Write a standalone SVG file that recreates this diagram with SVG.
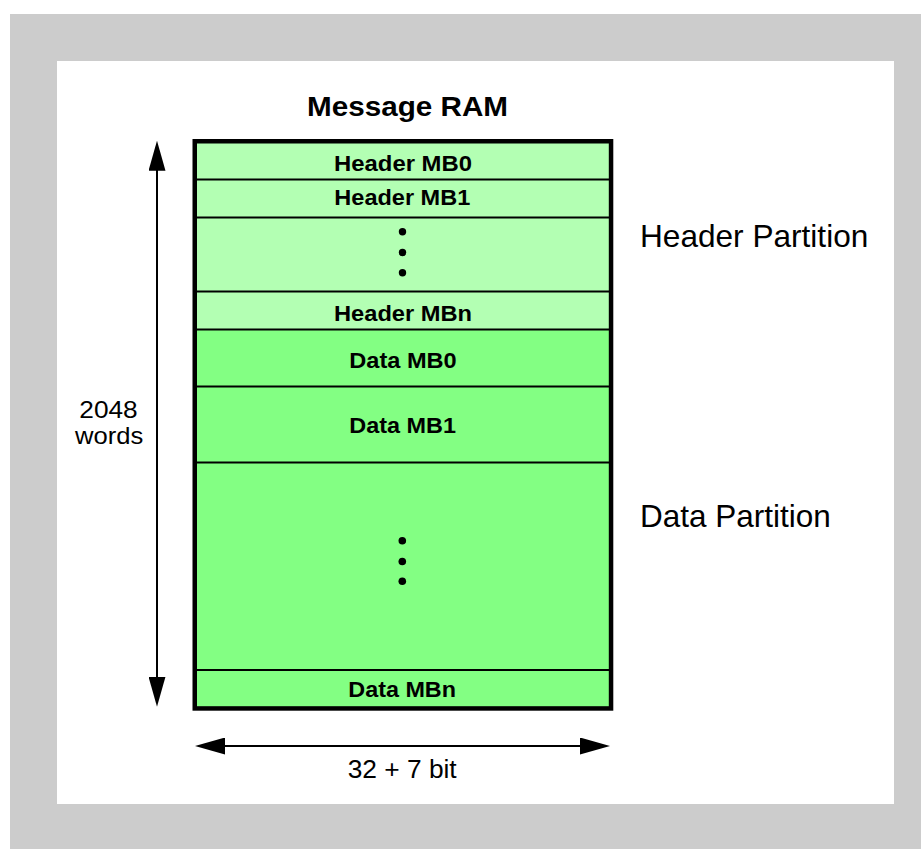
<svg xmlns="http://www.w3.org/2000/svg" width="921" height="849" viewBox="0 0 921 849">
  <defs>
    <marker id="ah" markerUnits="userSpaceOnUse" markerWidth="30" markerHeight="17" viewBox="0 0 30 17" refX="5" refY="8.5" orient="auto-start-reverse">
      <path d="M0,0 L30,8.5 L0,17 z" fill="#000"/>
    </marker>
  </defs>
  <style>
    .b { font-family: "Liberation Sans", Arial, sans-serif; font-weight: bold; fill: #000; }
    .r { font-family: "Liberation Sans", Arial, sans-serif; font-weight: normal; fill: #000; }
    .row { font-size: 22px; }
    .hdr { fill: #b3ffb3; }
    .dat { fill: #83ff83; }
    .div { stroke: #000; stroke-width: 2; }
    .conn { stroke: #000; stroke-width: 2; fill: none; }
  </style>
  <rect x="0" y="0" width="921" height="849" fill="#ffffff"/>
  <rect x="10" y="14" width="911" height="835" fill="#cccccc"/>
  <rect x="57" y="61" width="837" height="743" fill="#ffffff"/>

  <text class="b" x="307" y="116" font-size="28" textLength="201" lengthAdjust="spacingAndGlyphs">Message RAM</text>

  <g id="header-mb0">
    <rect class="hdr" x="195" y="141" width="416" height="38.5"/>
    <text class="b row" x="334" y="171" textLength="138" lengthAdjust="spacingAndGlyphs">Header MB0</text>
  </g>
  <g id="header-mb1">
    <rect class="hdr" x="195" y="179.5" width="416" height="38"/>
    <line class="div" x1="195" y1="179.5" x2="611" y2="179.5"/>
    <text class="b row" x="334.3" y="205.3" textLength="136" lengthAdjust="spacingAndGlyphs">Header MB1</text>
  </g>
  <g id="header-dots">
    <rect class="hdr" x="195" y="217.5" width="416" height="74"/>
    <line class="div" x1="195" y1="217.5" x2="611" y2="217.5"/>
    <circle cx="402.5" cy="231.8" r="3.7"/>
    <circle cx="402.5" cy="252.5" r="3.7"/>
    <circle cx="402.5" cy="272.8" r="3.7"/>
  </g>
  <g id="header-mbn">
    <rect class="hdr" x="195" y="291.5" width="416" height="38"/>
    <line class="div" x1="195" y1="291.5" x2="611" y2="291.5"/>
    <text class="b row" x="334" y="321" textLength="138" lengthAdjust="spacingAndGlyphs">Header MBn</text>
  </g>
  <g id="data-mb0">
    <rect class="dat" x="195" y="329.5" width="416" height="57"/>
    <line class="div" x1="195" y1="329.5" x2="611" y2="329.5"/>
    <text class="b row" x="349.3" y="367.7" textLength="107.4" lengthAdjust="spacingAndGlyphs">Data MB0</text>
  </g>
  <g id="data-mb1">
    <rect class="dat" x="195" y="386.5" width="416" height="76"/>
    <line class="div" x1="195" y1="386.6" x2="611" y2="386.6"/>
    <text class="b row" x="349.3" y="433.3" textLength="106.7" lengthAdjust="spacingAndGlyphs">Data MB1</text>
  </g>
  <g id="data-dots">
    <rect class="dat" x="195" y="462.4" width="416" height="207.6"/>
    <line class="div" x1="195" y1="462.4" x2="611" y2="462.4"/>
    <circle cx="402.3" cy="540.7" r="3.8"/>
    <circle cx="402.3" cy="561.5" r="3.8"/>
    <circle cx="402.3" cy="581.3" r="3.8"/>
  </g>
  <g id="data-mbn">
    <rect class="dat" x="195" y="670" width="416" height="38"/>
    <line class="div" x1="195" y1="670" x2="611" y2="670"/>
    <text class="b row" x="348.3" y="697" textLength="107.7" lengthAdjust="spacingAndGlyphs">Data MBn</text>
  </g>
  <g id="message-ram-frame">
    <rect x="194.75" y="141.25" width="416.3" height="567.2" fill="none" stroke="#000" stroke-width="4.5"/>
  </g>

  <g id="header-partition-label">
    <text class="r" x="640" y="247.3" font-size="30.5" textLength="228.3" lengthAdjust="spacingAndGlyphs">Header Partition</text>
  </g>
  <g id="data-partition-label">
    <text class="r" x="640" y="526.7" font-size="30.5" textLength="190.7" lengthAdjust="spacingAndGlyphs">Data Partition</text>
  </g>
  <g id="size-label">
    <text class="r" x="79.3" y="418.3" font-size="24.5" textLength="58.4" lengthAdjust="spacingAndGlyphs">2048</text>
    <text class="r" x="75" y="444.3" font-size="24.5" textLength="68.3" lengthAdjust="spacingAndGlyphs">words</text>
  </g>
  <g id="width-label">
    <text class="r" x="347.7" y="777.8" font-size="25.5" textLength="109" lengthAdjust="spacingAndGlyphs">32 + 7 bit</text>
  </g>

  <g id="connectors">
    <line class="conn" x1="157" y1="165.7" x2="157" y2="681.7" marker-start="url(#ah)" marker-end="url(#ah)"/>
    <line class="conn" x1="220" y1="746" x2="585" y2="746" marker-start="url(#ah)" marker-end="url(#ah)"/>
  </g>
</svg>
